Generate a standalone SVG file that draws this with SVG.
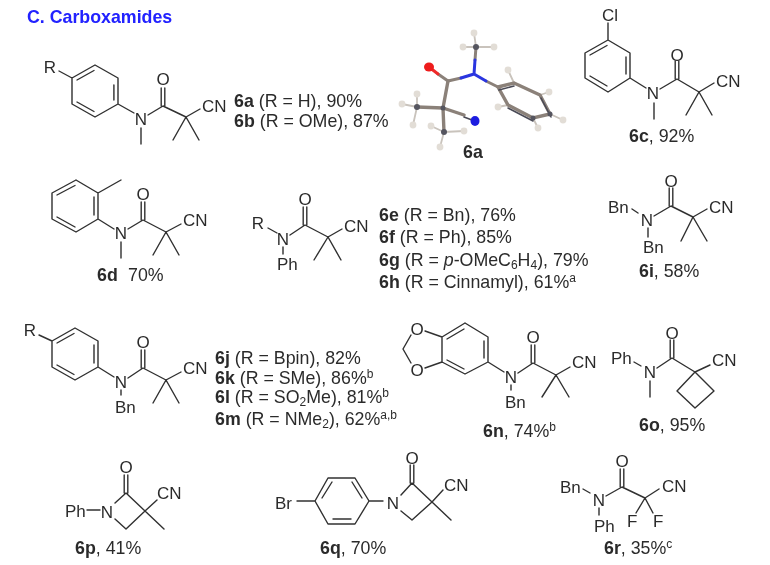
<svg xmlns="http://www.w3.org/2000/svg" width="770" height="565" viewBox="0 0 770 565">
<defs>
<filter id="soft" x="-2%" y="-2%" width="104%" height="104%"><feGaussianBlur stdDeviation="0.5"/></filter>
</defs>
<style>
text{font-family:"Liberation Sans",Arial,sans-serif;font-size:17px;fill:#2c2c2c}
.a{text-anchor:middle}
.l{font-size:17.8px}
.t{font-weight:bold;fill:#2020ff;font-size:17.8px}
.s{font-size:12px}
tspan.k{font-weight:bold}
.b{fill:none;stroke:#303030;stroke-width:1.4;stroke-linecap:round;stroke-linejoin:round}
.x{fill:none;stroke:#8b8179;stroke-width:3.4;stroke-linecap:round}
.xd{fill:none;stroke:#4a4a55;stroke-width:1.6;stroke-linecap:round}
.xh{fill:none;stroke:#c9c3bc;stroke-width:1.8}
.h{fill:#e2ddd6}
.xg{fill:none;stroke:#8b8179;stroke-width:3;stroke-linecap:round}
</style>
<rect width="770" height="565" fill="#ffffff"/>
<g filter="url(#soft)">
<text id="title" class="t" x="27" y="23">C. Carboxamides</text>

<g id="n6ab">
<path class="b" d="M59,71L72,78L95,65L118,78V104L95,117L72,104V78M77,80L94,70.5M113.9,85V100M77,102L94,111.5M118,104L134,113M148,115L163,106L186,117L173,140M186,117L199,140M186,117L200,109M141,128V144M161.2,106V88M164.8,106V88"/>
<text class="a" x="50" y="73">R</text><text class="a" x="141" y="125">N</text><text class="a" x="163" y="85">O</text><text x="202" y="112">CN</text>
<text class="l" x="234" y="107"><tspan class="k">6a</tspan> (R = H), 90%</text>
<text class="l" x="234" y="127"><tspan class="k">6b</tspan> (R = OMe), 87%</text>
</g>

<g id="n6a-crystal">
<path class="xh" d="M476,47L474,33M476,47L463,47M476,47L494,47M514,83L508,70M540,95L549,92M550,114L563,120M533,118L538,128M508,105L498,107M417,107L402,104M417,107L417,94M417,107L413,125M444,132L431,126M444,132L464,131M444,132L440,147"/>
<path class="x" d="M443,108L417,107M443,108L444,132M443,108L448,81M443,108L464,115M498,87L514,83L540,95L550,114L533,118L508,105L498,87"/>
<path class="xd" d="M499,90L514,86M541,98L551,117M533,121L508,108M464,117L472,120"/>
<path class="xg" d="M448,81L461,78M475,60L476,47M448,81L438,74M486,81L498,87"/>
<path d="M461,78L474,74L475,60M474,74L486,81" fill="none" stroke="#2a35e0" stroke-width="3" stroke-linecap="round"/>
<path d="M438,74L429,67" fill="none" stroke="#ee2a2a" stroke-width="3" stroke-linecap="round"/>
<ellipse cx="429" cy="67" rx="5" ry="4.5" fill="#ee1c1c"/>
<ellipse cx="475" cy="121" rx="4.5" ry="5" fill="#1c1ce0"/>
<g class="h"><circle cx="474" cy="33" r="3.4"/><circle cx="463" cy="47" r="3.4"/><circle cx="494" cy="47" r="3.4"/><circle cx="508" cy="70" r="3.4"/><circle cx="549" cy="92" r="3.4"/><circle cx="563" cy="120" r="3.4"/><circle cx="538" cy="128" r="3.4"/><circle cx="498" cy="107" r="3.4"/><circle cx="402" cy="104" r="3.4"/><circle cx="417" cy="94" r="3.4"/><circle cx="413" cy="125" r="3.4"/><circle cx="431" cy="126" r="3.4"/><circle cx="464" cy="131" r="3.4"/><circle cx="440" cy="147" r="3.4"/></g>
<g fill="#55555f"><circle cx="476" cy="47" r="3"/><circle cx="417" cy="107" r="3"/><circle cx="444" cy="132" r="3"/><circle cx="443" cy="108" r="2.5"/><circle cx="533" cy="118" r="2.5"/><circle cx="550" cy="114" r="2.5"/></g>
<text class="l a" x="473" y="158"><tspan class="k">6a</tspan></text>
</g>

<g id="n6c">
<path class="b" d="M608,23V40L630,53V78L608,92L585,78V53L608,40M590,55L607,45.5M626,57V74M590,76L607,86M630,78L646,88M660,89L677,79L699,92L686,115M699,92L712,115M699,92L714,83M654,103V119M675.2,79V61M678.8,79V61"/>
<text class="a" x="610" y="21">Cl</text><text class="a" x="653" y="99">N</text><text class="a" x="677" y="61">O</text><text x="716" y="87">CN</text>
<text class="l" x="629" y="142"><tspan class="k">6c</tspan>, 92%</text>
</g>

<g id="n6d">
<path class="b" d="M76,180L98,193V219L76,232L52,219V193L76,180M57,195L75,185.5M94,197V215M57,217L75,227M98,193L121,180M98,219L114,229M128,229L143,220L166,232L153,255M166,232L179,255M166,232L181,224M121,242V258M141.2,220V202M144.8,220V202"/>
<text class="a" x="121" y="239">N</text><text class="a" x="143" y="200">O</text><text x="183" y="226">CN</text>
<text class="l" x="97" y="281"><tspan class="k">6d</tspan></text><text class="l" x="128" y="281">70%</text>
</g>

<g id="n6eh">
<path class="b" d="M268,228L277,233M290,235L305,225L328,237L314,260M328,237L341,260M328,237L342,229M283,247V254M303.2,225V207M306.8,225V207"/>
<text class="a" x="258" y="229">R</text><text class="a" x="283" y="245">N</text><text class="a" x="305" y="205">O</text><text x="344" y="232">CN</text><text x="277" y="270">Ph</text>
<text class="l" x="379" y="221"><tspan class="k">6e</tspan> (R = Bn), 76%</text>
<text class="l" x="379" y="243"><tspan class="k">6f</tspan> (R = Ph), 85%</text>
<text class="l" x="379" y="266"><tspan class="k">6g</tspan> (R = <tspan font-style="italic">p</tspan>-OMeC<tspan class="s" dy="3">6</tspan><tspan dy="-3">H</tspan><tspan class="s" dy="3">4</tspan><tspan dy="-3">), 79%</tspan></text>
<text class="l" x="379" y="288"><tspan class="k">6h</tspan> (R = Cinnamyl), 61%<tspan class="s" dy="-6">a</tspan></text>
</g>

<g id="n6i">
<path class="b" d="M632,209L638,213M654,216L671,206L693,217L681,241M693,217L707,241M693,217L707,209M648,228V237M669.2,206V188M672.8,206V188"/>
<text x="608" y="213">Bn</text><text class="a" x="647" y="226">N</text><text class="a" x="671" y="187">O</text><text x="709" y="213">CN</text><text x="643" y="253">Bn</text>
<text class="l" x="639" y="277"><tspan class="k">6i</tspan>, 58%</text>
</g>

<g id="n6jm">
<path class="b" d="M39,335L52,341L75,328L98,341V367L75,380L52,367V341M57,343L74,333.5M94,345V363M57,365L74,374.5M98,367L114,377M128,378L143,368L166,380L153,403M166,380L179,403M166,380L181,372M121,390V395M141.2,368V350M144.8,368V350"/>
<text class="a" x="30" y="336">R</text><text class="a" x="121" y="388">N</text><text class="a" x="143" y="348">O</text><text x="183" y="374">CN</text><text x="115" y="413">Bn</text>
<text class="l" x="215" y="364"><tspan class="k">6j</tspan> (R = Bpin), 82%</text>
<text class="l" x="215" y="384"><tspan class="k">6k</tspan> (R = SMe), 86%<tspan class="s" dy="-6">b</tspan></text>
<text class="l" x="215" y="403"><tspan class="k">6l</tspan> (R = SO<tspan class="s" dy="2.5">2</tspan><tspan dy="-2.5">Me), 81%</tspan><tspan class="s" dy="-6">b</tspan></text>
<text class="l" x="215" y="425"><tspan class="k">6m</tspan> (R = NMe<tspan class="s" dy="3">2</tspan><tspan dy="-3">), 62%</tspan><tspan class="s" dy="-6">a,b</tspan></text>
</g>

<g id="n6n">
<path class="b" d="M465,323L488,337V362L465,374L442,362V337L465,323M447,339L464,329M484,341V358M447,360L464,369M442,337L425,331M442,362L425,368M411,335L403,349L411,363M488,362L504,372M518,373L533,363L556,375L542,397M556,375L569,397M556,375L570,367M511,385V390M531.2,363V345M534.8,363V345"/>
<text class="a" x="417" y="335">O</text><text class="a" x="417" y="376">O</text><text class="a" x="511" y="383">N</text><text class="a" x="533" y="343">O</text><text x="572" y="368">CN</text><text x="505" y="408">Bn</text>
<text class="l" x="483" y="437"><tspan class="k">6n</tspan>, 74%<tspan class="s" dy="-6">b</tspan></text>
</g>

<g id="n6o">
<path class="b" d="M634,362L641,366M657,368L672,358L695,372L714,391L695,408L677,391L695,372M695,372L710,365M650,381V397M670.2,358V340M673.8,358V340"/>
<text x="611" y="364">Ph</text><text class="a" x="650" y="378">N</text><text class="a" x="672" y="339">O</text><text x="712" y="366">CN</text>
<text class="l" x="639" y="431"><tspan class="k">6o</tspan>, 95%</text>
</g>

<g id="n6p">
<path class="b" d="M87,510H100M115,503L126,493L145,511L126,529L115,519M145,511L157,500M145,511L164,529M124.2,493V475M127.8,493V475"/>
<text x="65" y="517">Ph</text><text class="a" x="107" y="518">N</text><text class="a" x="126" y="473">O</text><text x="157" y="499">CN</text>
<text class="l" x="75" y="554"><tspan class="k">6p</tspan>, 41%</text>
</g>

<g id="n6q">
<path class="b" d="M297,501H315L328,478H355L369,501L355,524H328L315,501M322,498L332,482M352,482L362,498M333,519H351M369,501H383M401,495L412,483L432,502L412,520L401,511M432,502L443,490M432,502L451,520M410.2,483V465M413.8,483V465"/>
<text x="275" y="509">Br</text><text class="a" x="393" y="509">N</text><text class="a" x="412" y="464">O</text><text x="444" y="491">CN</text>
<text class="l" x="320" y="554"><tspan class="k">6q</tspan>, 70%</text>
</g>

<g id="n6r">
<path class="b" d="M583,489L590,493M606,496L622,487L645,498L636,513M645,498L653,513M645,498L659,489M599,508V515M620.2,487V469M623.8,487V469"/>
<text x="560" y="493">Bn</text><text class="a" x="599" y="506">N</text><text class="a" x="622" y="467">O</text><text x="662" y="492">CN</text><text x="594" y="532">Ph</text><text x="627" y="527">F</text><text x="653" y="527">F</text>
<text class="l" x="604" y="554"><tspan class="k">6r</tspan>, 35%<tspan class="s" dy="-6">c</tspan></text>
</g>
</g>
</svg>
